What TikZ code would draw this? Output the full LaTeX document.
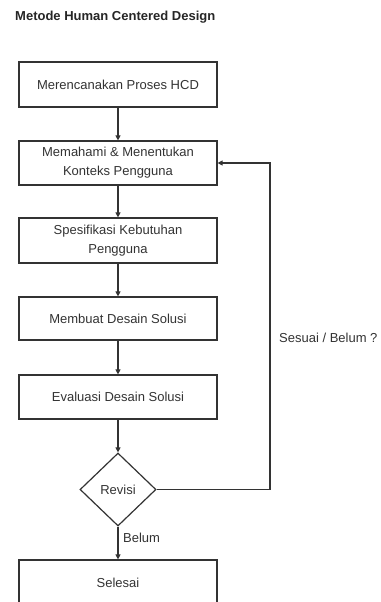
\documentclass[tikz,border=0pt]{standalone}
\usepackage{fontspec}
\setmainfont{Liberation Sans}
\usetikzlibrary{arrows.meta,shapes.geometric}
\definecolor{ink}{HTML}{333333}
\begin{document}
\begin{tikzpicture}[x=1pt,y=-1pt,
  stepbox/.style={draw=ink,line width=1.2pt,minimum width=198pt,minimum height=44pt,inner sep=0pt,align=center,font=\fontsize{13}{19}\selectfont,text=ink},
  decision/.style={draw=ink,line width=1.2pt,diamond,minimum width=76pt,minimum height=73pt,inner sep=0pt,font=\fontsize{13}{19}\selectfont,text=ink},
  flow/.style={draw=ink,line width=1.1pt,-{Triangle[width=5pt,length=5pt]}},
  lbl/.style={font=\fontsize{13}{19}\selectfont,text=ink,inner sep=0pt}]
\useasboundingbox (0,0) rectangle (380,602);
\clip (0,0) rectangle (380,602);
\fill[white] (0,0) rectangle (380,602);
\node[anchor=west,inner sep=0pt,font=\bfseries\fontsize{13}{16}\selectfont,text=black!85] (title) at (15,17) {Metode Human Centered Design};
\node[stepbox,minimum height=45pt] (b1) at (118,84.5) {Merencanakan Proses HCD};
\node[stepbox] (b2) at (118,163) {Memahami \& Menentukan\\Konteks Pengguna};
\node[stepbox,minimum height=45pt] (b3) at (118,240.5) {Spesifikasi Kebutuhan\\Pengguna};
\node[stepbox,minimum height=43pt] (b4) at (118,318.5) {Membuat Desain Solusi};
\node[stepbox] (b5) at (118,397) {Evaluasi Desain Solusi};
\node[decision] (d) at (118,489.5) {Revisi};
\node[stepbox,minimum height=46pt] (b6) at (118,583) {Selesai};
\coordinate (c1) at (270,489.5);
\coordinate (c2) at (270,163);
\draw[flow] (b1) -- (b2);
\draw[flow] (b2) -- (b3);
\draw[flow] (b3) -- (b4);
\draw[flow] (b4) -- (b5);
\draw[flow] (b5) -- (d);
\draw[flow] (d) -- (b6);
\draw[flow] (d.east) -- (c1) -- (c2) -- (b2.east);
\node[lbl,anchor=west] (l1) at (279,338) {Sesuai / Belum ?};
\node[lbl,anchor=west] (l2) at (123,538) {Belum};
\end{tikzpicture}
\end{document}
